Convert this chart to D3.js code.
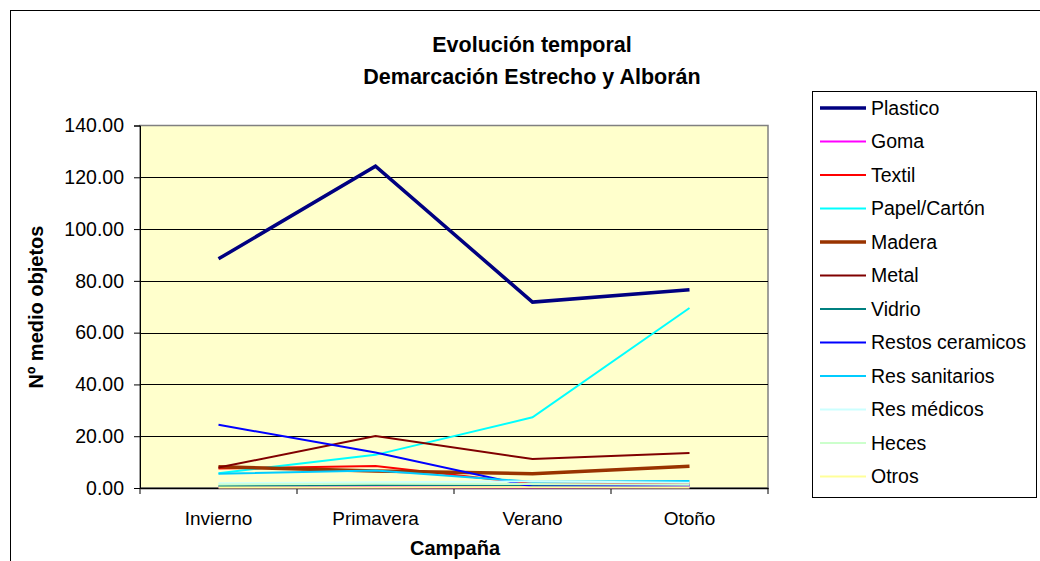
<!DOCTYPE html>
<html><head><meta charset="utf-8">
<script src="https://cdn.jsdelivr.net/npm/d3@7"></script>
<style>body{margin:0;background:#fff;} svg{display:block;font-family:"Liberation Sans",Arial,sans-serif;}</style>
</head><body>
<svg id="c" width="1040" height="561"></svg>
<script>
const categories = ["Invierno", "Primavera", "Verano", "Otoño"];
const seriesNames = ["Plastico","Goma","Textil","Papel/Cartón","Madera","Metal","Vidrio","Restos ceramicos","Res sanitarios","Res médicos","Heces","Otros"];
const plastico = [88.5, 124.3, 71.8, 76.6];
const goma = [0.3, 0.3, 0.2, 0.3];
const textil = [7.5, 8.5, 1.6, 1.8];
const papel = [5.7, 12.8, 27.3, 69.5];
const madera = [8.2, 6.6, 5.5, 8.4];
const metal = [7.9, 20.1, 11.2, 13.5];
const vidrio = [0.8, 1.2, 1.2, 1.2];
const restos = [24.4, 13.7, 0.5, 1.0];
const sanitarios = [5.5, 6.8, 2.4, 2.7];
const medicos = [1.8, 2.2, 2.6, 2.0];
const heces = [1.4, 1.6, 1.5, 1.3];
const otros = [0.2, 0.2, 0.3, 0.2];
const yTicks = [0, 20, 40, 60, 80, 100, 120, 140];

const seriesValues = [plastico, goma, textil, papel, madera, metal, vidrio, restos, sanitarios, medicos, heces, otros];
const colors = ["#000080","#FF00FF","#FF0000","#00FFFF","#993300","#800000","#008080","#0000FF","#00CCFF","#CCFFFF","#CCFFCC","#FFFF99"];
const widths = [3.5,2,2,2,3.5,2,2,2,2,2,2,2];

const svg = d3.select("#c");
svg.append("rect").attr("x",10.5).attr("y",10.5).attr("width",1100).attr("height",600)
  .attr("fill","#fff").attr("stroke","#000").attr("stroke-width",1);

const L=140, R=768, T=125.5, B=488;
const x = d3.scaleBand().domain(categories).range([L,R]);
const y = d3.scaleLinear().domain([0,140]).range([B,T]);

svg.append("rect").attr("x",L).attr("y",T).attr("width",R-L).attr("height",B-T)
  .attr("fill","#FFFFCC").attr("stroke","#808080").attr("stroke-width",1.5);

svg.append("g").selectAll("line").data(yTicks.filter(d=>d>0 && d<140)).join("line")
  .attr("x1",L).attr("x2",R).attr("y1",d=>Math.round(y(d))+0.5).attr("y2",d=>Math.round(y(d))+0.5)
  .attr("stroke","#000").attr("stroke-width",1);

const ya = svg.append("g").attr("transform",`translate(${L},0)`)
  .call(d3.axisLeft(y).tickValues(yTicks).tickFormat(d3.format(".2f")).tickSize(6).tickPadding(10));
ya.select(".domain").attr("stroke","#000");
ya.selectAll("line").attr("stroke","#000");
ya.selectAll("text").attr("font-size","19.5px").attr("fill","#000").attr("font-family","Liberation Sans, Arial, sans-serif");

const xa = svg.append("g").attr("transform",`translate(0,${B})`)
  .call(d3.axisBottom(x).tickSize(0).tickPadding(24));
xa.select(".domain").attr("stroke","#000").attr("stroke-width",1.5);
xa.selectAll("text").attr("font-size","19px").attr("fill","#000").attr("font-family","Liberation Sans, Arial, sans-serif");
const bounds = categories.map(c=>x(c)).concat([R]);
svg.append("g").selectAll("line").data(bounds).join("line")
  .attr("x1",d=>d).attr("x2",d=>d).attr("y1",B).attr("y2",B+6).attr("stroke","#000");

const line = d3.line().x((d,i)=>x(categories[i])+x.bandwidth()/2).y(d=>y(d));
const order = d3.range(seriesNames.length);
svg.append("g").selectAll("path").data(order).join("path")
  .attr("d",i=>line(seriesValues[i])).attr("fill","none")
  .attr("stroke",i=>colors[i]).attr("stroke-width",i=>widths[i]).attr("stroke-linejoin","miter");

svg.append("text").attr("x",532).attr("y",51.5).attr("text-anchor","middle")
  .attr("font-size","21.5px").attr("font-weight","bold").text("Evolución temporal");
svg.append("text").attr("x",532).attr("y",84).attr("text-anchor","middle")
  .attr("font-size","21.5px").attr("font-weight","bold").text("Demarcación Estrecho y Alborán");
svg.append("text").attr("transform","translate(43,307) rotate(-90)").attr("text-anchor","middle")
  .attr("font-size","20px").attr("font-weight","bold").text("Nº medio objetos");
svg.append("text").attr("x",455).attr("y",555).attr("text-anchor","middle")
  .attr("font-size","20px").attr("font-weight","bold").text("Campaña");

const lg = svg.append("g");
lg.append("rect").attr("x",812.5).attr("y",91.5).attr("width",224).attr("height",406)
  .attr("fill","#fff").attr("stroke","#000").attr("stroke-width",1);
const items = lg.selectAll("g.it").data(order).join("g").attr("class","it")
  .attr("transform",i=>`translate(0,${108+i*33.5})`);
items.append("line").attr("x1",820).attr("x2",866).attr("y1",0).attr("y2",0)
  .attr("stroke",i=>colors[i]).attr("stroke-width",i=>widths[i]);
items.append("text").attr("x",871).attr("y",6.8).attr("font-size","19.5px").text(i=>seriesNames[i]);
</script>
</body></html>
